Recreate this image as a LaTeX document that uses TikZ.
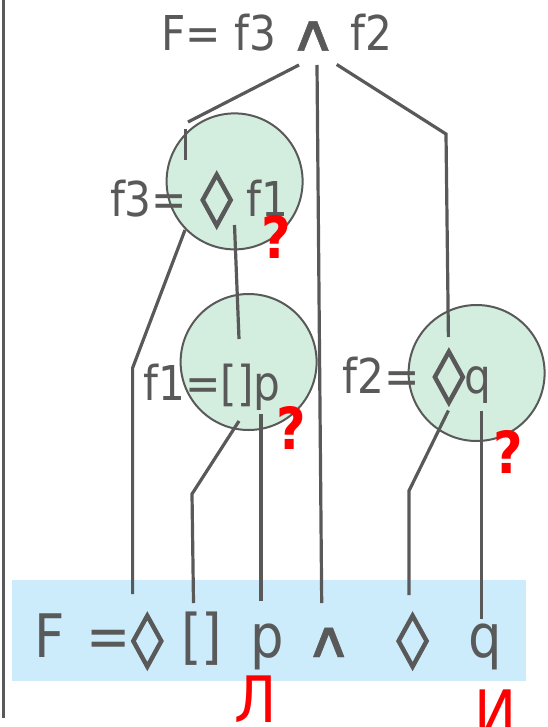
\documentclass[tikz,border=0pt]{standalone}
\usepackage{fontspec}
\usepackage{graphicx}
\setmainfont{DejaVu Sans}[FakeStretch=0.88]
\newfontfamily\glyphfont{DejaVu Sans}[FakeBold=2]
\newfontfamily\wedgefont{DejaVu Sans}[FakeBold=0.8]
\usetikzlibrary{positioning}
\definecolor{ink}{HTML}{595959}
\definecolor{mint}{HTML}{D3EEDF}
\definecolor{sky}{HTML}{CCEBFB}
\newcommand{\dia}{{\glyphfont\fontsize{48}{56}\selectfont\scalebox{1.35}[1.15]{◊}}}
\newcommand{\conj}{{\wedgefont\fontsize{48}{56}\selectfont\scalebox{1.35}[1.05]{∧}}}
\tikzset{
    tree edge/.style = {draw=ink, line width=3.2pt},
    sub circle/.style = {circle, draw=ink, line width=2pt, fill=mint, minimum size=136pt, inner sep=0pt},
    formula/.style = {text=ink, inner sep=0pt, anchor=base, font=\fontsize{48}{56}\selectfont},
    big formula/.style = {formula, font=\fontsize{60}{70}\selectfont},
    red mark/.style = {text=red, inner sep=0pt, anchor=base, font=\fontsize{58}{64}\selectfont\bfseries},
}
\begin{document}
\begin{tikzpicture}[x=1pt, y=-1pt]
        \useasboundingbox (0, 0) rectangle (547, 727);
        % frame line and the band of the whole formula
        \coordinate (frameTop) at (3.5, 0);
        \coordinate (frameBot) at (3.5, 718);
        \draw[ink, line width=3.8pt] (frameTop) -- (frameBot);
        \fill[sky] (12.2, 579.6) rectangle (525.8, 680.7);
        % subformula circles
        \node[sub circle] (f3c) at (234.6, 181.4) {};
        \node[sub circle] (f1c) at (248.6, 362) {};
        \node[sub circle] (f2c) at (476.6, 373) {};
        % texts
        \node[formula] (F) at (276.5, 50.6) {F= f3 \conj{} f2};
        \node[formula] (f3) at (199, 216) {f3= \dia{} f1};
        \node[formula] (f1) at (212, 400) {f1=[]p};
        \node[formula] (f2) at (417, 393) {f2= \dia q};
        \node[big formula] (bF) at (49.5, 657) {F};
        \node[big formula] (bEq) at (108.5, 657) {=};
        \node[big formula] (bDiaA) at (147.3, 657) {\dia};
        \node[big formula] (bBox) at (202, 657) {[]};
        \node[big formula] (bP) at (267, 657) {p};
        \node[big formula] (bAnd) at (328.7, 657) {\conj};
        \node[big formula] (bDiaB) at (412.6, 657) {\dia};
        \node[big formula] (bQ) at (485.4, 657) {q};
        \node[red mark] (q3) at (276, 258) {?};
        \node[red mark] (q1) at (291, 449) {?};
        \node[red mark] (q2) at (508.5, 473) {?};
        \node[red mark, font=\fontsize{64}{72}\selectfont] (vF) at (256, 722) {Л};
        \node[red mark, font=\fontsize{64}{72}\selectfont] (vT) at (495.5, 736) {И};
        % end points of the connectors
        \coordinate (andL) at (299, 65);
        \coordinate (andM) at (317, 65);
        \coordinate (andR) at (336.7, 64.5);
        \coordinate (f3Top) at (188, 122);
        \coordinate (f3TickA) at (185.6, 129);
        \coordinate (f3TickB) at (185.6, 160);
        \coordinate (f3Dia) at (185, 230);
        \coordinate (f3Arg) at (234.5, 225);
        \coordinate (f1Top) at (239, 339);
        \coordinate (f1Box) at (239, 421);
        \coordinate (f1P) at (261, 414);
        \coordinate (f2Bend) at (446, 134);
        \coordinate (f2Top) at (448.4, 337);
        \coordinate (f2Dia) at (448.4, 410.5);
        \coordinate (f2Q) at (481.5, 410.5);
        \coordinate (diaABend) at (132.6, 368);
        \coordinate (diaAEnd) at (132.6, 594);
        \coordinate (boxBend) at (192, 494);
        \coordinate (boxEnd) at (193.5, 603);
        \coordinate (pEnd) at (261, 601);
        \coordinate (andEnd) at (321.7, 603);
        \coordinate (diaBBend) at (409, 490.8);
        \coordinate (diaBEnd) at (409, 595);
        \coordinate (qEnd) at (481.5, 618.6);
        % connectors
        \draw[tree edge] (andL) -- (f3Top);
        \draw[tree edge] (f3TickA) -- (f3TickB);
        \draw[tree edge] (andM) -- (andEnd);
        \draw[tree edge] (andR) -- (f2Bend) -- (f2Top);
        \draw[tree edge] (f3Dia) -- (diaABend) -- (diaAEnd);
        \draw[tree edge] (f3Arg) -- (f1Top);
        \draw[tree edge] (f1Box) -- (boxBend) -- (boxEnd);
        \draw[tree edge] (f1P) -- (pEnd);
        \draw[tree edge] (f2Dia) -- (diaBBend) -- (diaBEnd);
        \draw[tree edge] (f2Q) -- (qEnd);
    \end{tikzpicture}
\end{document}
